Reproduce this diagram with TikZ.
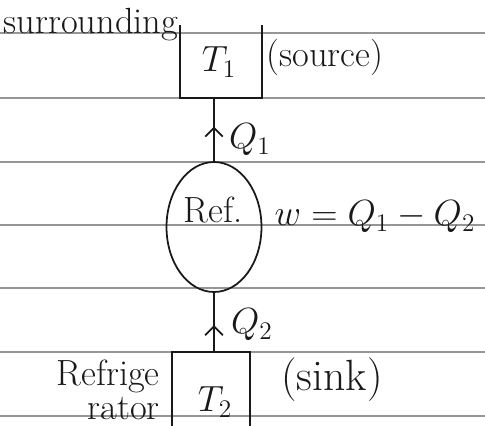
\documentclass[tikz,border=0pt]{standalone}
\usepackage{amsmath}
\usetikzlibrary{shapes.geometric, arrows.meta, positioning, calc, decorations.markings}
\definecolor{mydark}{RGB}{25,25,25}
\definecolor{rulegray}{RGB}{150,150,150}
\tikzset{
  rule/.style={line width=1pt, color=rulegray},
  wall/.style={line width=1pt, color=mydark},
  reservoir/.style={rectangle, minimum width=1.64cm, minimum height=1.46cm, inner sep=0pt},
  engine/.style={ellipse, draw=mydark, line width=1pt, minimum width=1.9cm,
    minimum height=2.6cm, inner sep=0pt},
  flow/.style={line width=1pt, color=mydark, postaction={decorate},
    decoration={markings, mark=at position #1 with {\arrow{Straight Barb[length=5pt, width=10pt]}}}},
  flow/.default=0.5
}

\begin{document}
\begin{tikzpicture}[x=0.02cm, y=-0.02cm,
  lbl/.style={font=\huge, color=mydark},
  side/.style={font=\huge, color=mydark, inner sep=0pt}
]
\useasboundingbox (0,0) rectangle (485,426);
% ruled paper
\foreach \y in {33,98,162,225,288,352,416}
  \draw[rule] (0,\y) -- (485,\y);
% source
\node[reservoir] (hot) at (221,61.5) {};
\draw[wall] (hot.north west) -- (hot.south west) -- (hot.south east) -- (hot.north east);
\node[lbl] (t1) at (219,62) {$T_1$};
\node[lbl] (src) at (325,57) {(source)};
\node[side] (surr) at (91,25) {surrounding};
% sink
\node[reservoir, minimum width=1.56cm, minimum height=1.48cm] (cold) at (211,389) {};
\draw[wall] (cold.south west) -- (cold.north west) -- (cold.north east) -- (cold.south east);
\node[lbl] (t2) at (215,402) {$T_2$};
\node[lbl, font=\Huge] (snk) at (332,380) {(sink)};
\node[side, anchor=east] (fridge) at (160,376) {Refrige};
\node[side, anchor=east] (fridge2) at (160,408) {rator};
% refrigerator
\node[engine] (ref) at (214,227) {};
\node[lbl] (reflbl) at (213,210) {Ref.};
\node[lbl] (work) at (375,217) {$w=Q_1-Q_2$};
% heat flows
\draw[flow=0.55] (ref.north) -- (ref.north |- hot.south);
\node[lbl] (q1) at (250,140) {$Q_1$};
\draw[flow=0.45] (cold.north -| ref.south) -- (ref.south);
\node[lbl] (q2) at (252,325) {$Q_2$};
\end{tikzpicture}
\end{document}
